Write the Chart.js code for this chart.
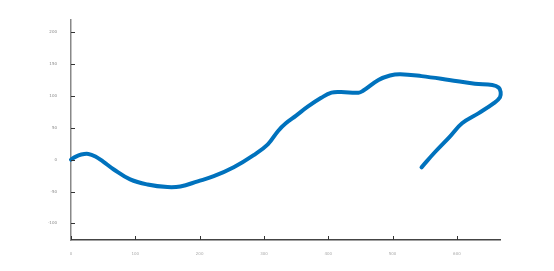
<!DOCTYPE html>
<html>
<head>
<meta charset="utf-8">
<script src="https://cdn.jsdelivr.net/npm/chart.js@4/dist/chart.umd.min.js"></script>
<style>
  html, body { margin: 0; padding: 0; background: #fff; }
  #wrap { width: 554px; height: 271px; }
</style>
</head>
<body>
<div id="wrap"><canvas id="chart"></canvas></div>
<script>
// path points
const xs = [0, 6, 16, 27, 38, 50, 66, 92, 119, 150, 170, 197, 222, 253, 284, 306, 322, 334, 350, 368, 389, 405, 420, 447, 454, 478, 496, 512, 545, 588, 628, 655, 665, 668, 667, 658, 634, 608, 588, 566, 545];
const ys = [0, 4, 8, 9, 5, -3, -15, -31, -39, -43, -42, -34, -26, -12, 7, 24, 45, 57, 69, 83, 97, 105, 106, 105, 108, 125, 132, 134, 131, 125, 119, 117, 113, 106, 98, 89, 73, 57, 35, 12, -12];
const xTicks = [0, 100, 200, 300, 400, 500, 600];
const yTicks = [-100, -50, 0, 50, 100, 150, 200];

const points = xs.map((x, i) => ({ x: x, y: ys[i] }));

// ticks drawn inward like the original axes
const innerTicks = {
  id: 'innerTicks',
  afterDraw(chart) {
    const ctx = chart.ctx;
    const sx = chart.scales.x, sy = chart.scales.y;
    const area = chart.chartArea;
    ctx.save();
    ctx.strokeStyle = '#333';
    ctx.lineWidth = 1;
    ctx.beginPath();
    xTicks.forEach(v => {
      const px = Math.round(sx.getPixelForValue(v)) + 0.5;
      ctx.moveTo(px, area.bottom);
      ctx.lineTo(px, area.bottom - 4);
    });
    yTicks.forEach(v => {
      const py = Math.round(sy.getPixelForValue(v)) + 0.5;
      ctx.moveTo(area.left, py);
      ctx.lineTo(area.left + 4, py);
    });
    ctx.stroke();
    ctx.restore();
  }
};

new Chart(document.getElementById('chart'), {
  type: 'line',
  data: {
    datasets: [{
      data: points,
      borderColor: 'rgb(0,114,189)',
      borderWidth: 4,
      borderCapStyle: 'round',
      borderJoinStyle: 'round',
      pointRadius: 0,
      tension: 0.4,
      fill: false,
      clip: 6
    }]
  },
  options: {
    responsive: true,
    maintainAspectRatio: false,
    animation: false,
    layout: { padding: { left: 0, top: 20, right: 54, bottom: 0 } },
    plugins: { legend: { display: false }, tooltip: { enabled: false } },
    scales: {
      x: {
        type: 'linear',
        min: 0,
        max: 667,
        grid: { display: false },
        border: { color: '#444', width: 1.5 },
        afterBuildTicks: s => { s.ticks = xTicks.map(v => ({ value: v })); },
        afterFit: s => { s.height = 31; },
        ticks: { color: '#aaa', font: { size: 4, family: 'DejaVu Sans' }, padding: 4, maxRotation: 0 }
      },
      y: {
        min: -126,
        max: 219,
        grid: { display: false },
        border: { color: '#888', width: 1.5 },
        afterBuildTicks: s => { s.ticks = yTicks.map(v => ({ value: v })); },
        afterFit: s => { s.width = 71; },
        ticks: { color: '#888', font: { size: 4, family: 'DejaVu Sans' }, padding: 6 }
      }
    }
  },
  plugins: [innerTicks]
});
</script>
</body>
</html>
